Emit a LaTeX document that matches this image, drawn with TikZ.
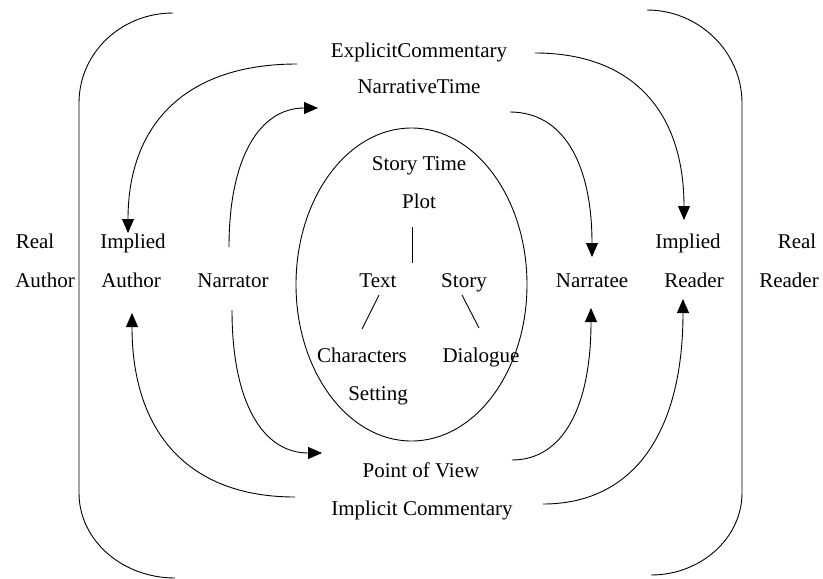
\documentclass[tikz,border=0pt]{standalone}
\usepackage{fontspec}
\setmainfont{Liberation Serif}
\usetikzlibrary{arrows.meta}
\begin{document}
\begin{tikzpicture}[x=1pt,y=-1pt,
  lbl/.style={font=\fontsize{21}{25}\selectfont, inner sep=0pt, text height=14pt, text depth=4.5pt},
  ln/.style={line width=0.9pt},
  arr/.style={ln, -{Triangle[length=14pt,width=12pt]}}]
\useasboundingbox (0,0) rectangle (823,579);

% text nodes
\node[lbl] (ec) at (419,53) {ExplicitCommentary};
\node[lbl] (nt) at (419,89) {NarrativeTime};
\node[lbl] (st) at (419,166) {Story Time};
\node[lbl] (plot) at (419,204) {Plot};
\node[lbl] (text) at (378,283) {Text};
\node[lbl] (story) at (464,283) {Story};
\node[lbl] (chars) at (362,358) {Characters};
\node[lbl] (dial) at (481,358) {Dialogue};
\node[lbl] (setting) at (378,396) {Setting};
\node[lbl] (pov) at (421,473) {Point of View};
\node[lbl] (ic) at (422,511) {Implicit Commentary};
\node[lbl] (real1) at (35,244) {Real};
\node[lbl] (auth1) at (45,283) {Author};
\node[lbl] (impl1) at (133,244) {Implied};
\node[lbl] (auth2) at (131,283) {Author};
\node[lbl] (narrator) at (233,283) {Narrator};
\node[lbl] (narratee) at (592,283) {Narratee};
\node[lbl] (impl2) at (688,244) {Implied};
\node[lbl] (reader1) at (694,283) {Reader};
\node[lbl] (real2) at (797,244) {Real};
\node[lbl] (reader2) at (789,283) {Reader};

% central ellipse
\draw[ln] (411.5,284.5) ellipse [x radius=115.5pt, y radius=156.5pt];

% brackets
\draw[ln] (173,13) .. controls (121,13) and (79,53) .. (79,103) -- (79,493)
  .. controls (79,540) and (122,578) .. (175,578);
\draw[ln] (647,10) .. controls (699,10) and (742,52) .. (742,103) -- (742,493)
  .. controls (742,538) and (701,575) .. (651,575);

% endpoints of connectors
\coordinate (ecL) at (297,64);
\coordinate (ecR) at (535,53);
\coordinate (ntL) at (318,108);
\coordinate (ntR) at (510,112);
\coordinate (impl1T) at (128,233);
\coordinate (auth2B) at (132,313);
\coordinate (narT) at (229,247);
\coordinate (narB) at (232,310);
\coordinate (narteeT) at (592,257);
\coordinate (narteeB) at (591,308);
\coordinate (impl2T) at (684,220);
\coordinate (reader1B) at (683,299);
\coordinate (povL) at (322,453);
\coordinate (povR) at (512,460);
\coordinate (icL) at (295,497);
\coordinate (icR) at (543,504);

% arrows
\draw[arr] (ecL) .. controls (187,64) and (128,123) .. (impl1T);
\draw[arr] (narT) .. controls (229,157) and (260,108) .. (ntL);
\draw[arr] (ecR) .. controls (632,53) and (684,111) .. (impl2T);
\draw[arr] (ntR) .. controls (563,112) and (592,163) .. (narteeT);
\draw[arr] (narB) .. controls (232,403) and (263,453) .. (povL);
\draw[arr] (icL) .. controls (189,497) and (132,433) .. (auth2B);
\draw[arr] (povR) .. controls (563,460) and (591,407) .. (narteeB);
\draw[arr] (icR) .. controls (634,504) and (683,432) .. (reader1B);

% inner lines
\coordinate (plotB) at (412,227);
\coordinate (plotE) at (412,263);
\coordinate (textB) at (379,295);
\coordinate (charsT) at (362,329);
\coordinate (storyB) at (462,295);
\coordinate (dialT) at (479,328);
\draw[ln] (plotB) -- (plotE);
\draw[ln] (textB) -- (charsT);
\draw[ln] (storyB) -- (dialT);
\end{tikzpicture}
\end{document}
